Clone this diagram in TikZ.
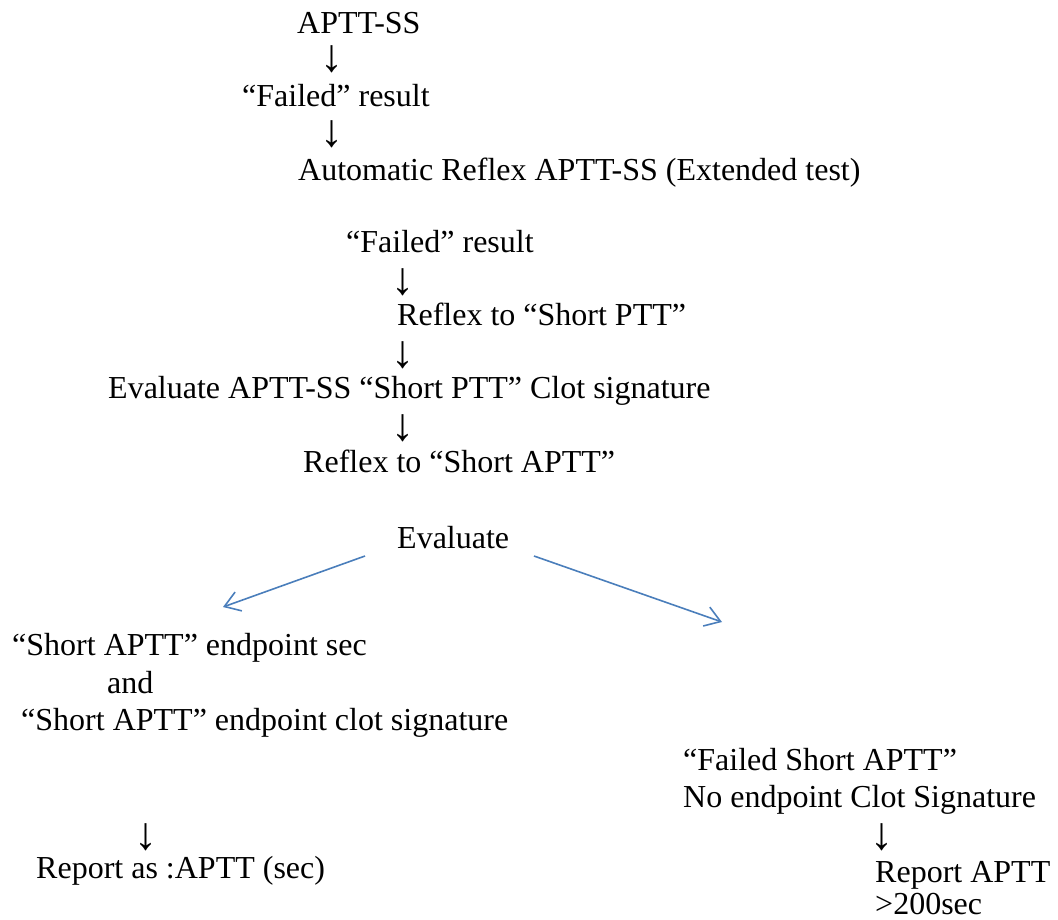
\documentclass[tikz,border=0pt]{standalone}
\usepackage{fontspec}
\setmainfont{Liberation Serif}
\usetikzlibrary{arrows.meta}
\definecolor{arrowblue}{RGB}{74,126,187}
\begin{document}
\begin{tikzpicture}[x=1bp,y=-1bp,
  txt/.style={anchor=base west,inner sep=0pt,font=\fontsize{32bp}{38bp}\selectfont},
  dn/.style={anchor=center,inner sep=0pt,font=\fontsize{46bp}{50bp}\selectfont},
  flow/.style={draw=arrowblue,line width=1.6bp,-{Straight Barb[length=15bp,width=20bp,line width=1.6bp]}}]
\useasboundingbox (0,0) rectangle (1058,920);
% main chain
\node[txt] (s1) at (297,33) {APTT-SS};
\node[dn]  (d1) at (332,59) {↓};
\node[txt] (s2) at (242,106) {“Failed” result};
\node[dn]  (d2) at (332,134) {↓};
\node[txt] (s3) at (298,180) {Automatic Reflex APTT-SS (Extended test)};
\node[txt] (s4) at (346,252) {“Failed” result};
\node[dn]  (d3) at (403,282) {↓};
\node[txt] (s5) at (397,325) {Reflex to “Short PTT”};
\node[dn]  (d4) at (403,355) {↓};
\node[txt] (s6) at (108,398) {Evaluate APTT-SS “Short PTT” Clot signature};
\node[dn]  (d5) at (403,428) {↓};
\node[txt] (s7) at (303,472) {Reflex to “Short APTT”};
\node[txt] (ev) at (397,548) {Evaluate};
% left branch
\node[txt] (l1) at (12,655) {“Short APTT” endpoint sec};
\node[txt] (l2) at (107,693) {and};
\node[txt] (l3) at (21,730) {“Short APTT” endpoint clot signature};
\node[dn]  (d6) at (146,837) {↓};
\node[txt] (l4) at (36,878) {Report as :APTT (sec)};
% right branch
\node[txt] (r1) at (683,770) {“Failed Short APTT”};
\node[txt] (r2) at (683,807) {No endpoint Clot Signature};
\node[dn]  (d7) at (882,837) {↓};
\node[txt] (r3) at (875,882) {Report APTT};
\node[txt] (r4) at (875,914) {>200sec};
% branch arrows
\coordinate (lt) at (365,556);
\coordinate (la) at (223,607);
\coordinate (rt) at (534,556);
\coordinate (ra) at (722,622);
\draw[flow] (lt) -- (la);
\draw[flow] (rt) -- (ra);
\end{tikzpicture}
\end{document}
